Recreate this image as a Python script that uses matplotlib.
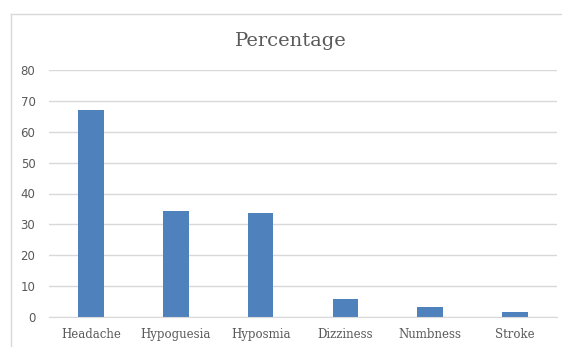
import matplotlib
matplotlib.use("Agg")
import matplotlib.pyplot as plt
from matplotlib.lines import Line2D

categories = ["Headache", "Hypoguesia", "Hyposmia", "Dizziness", "Numbness", "Stroke"]
percentages = [67.2, 34.4, 33.6, 5.6, 3.2, 1.6]
y_ticks = [0, 10, 20, 30, 40, 50, 60, 70, 80]

W, H = 562, 347
fig = plt.figure(figsize=(W / 100, H / 100), dpi=100)
fig.patch.set_facecolor("white")

# chart frame (left and top edges)
fx, fy = 10.5 / W, 1 - 13.5 / H
fig.add_artist(Line2D([fx, fx], [0, fy], transform=fig.transFigure,
                      color="#d9d9d9", linewidth=1.0))
fig.add_artist(Line2D([fx, 1], [fy, fy], transform=fig.transFigure,
                      color="#d9d9d9", linewidth=1.0))

left, right = 48.6 / W, 557.4 / W
bottom, top = 1 - 316.7 / H, 1 - 70.3 / H
ax = fig.add_axes([left, bottom, right - left, top - bottom])

x = range(len(categories))
ax.bar(x, percentages, width=0.30, color="#4f81bd", zorder=3)

ax.set_xlim(-0.5, len(categories) - 0.5)
ax.set_ylim(0, 80)
ax.set_yticks(y_ticks)
ax.set_yticklabels([str(t) for t in y_ticks], fontsize=8.5, color="#595959",
                   family="DejaVu Sans")
ax.set_xticks(list(x))
ax.set_xticklabels(categories, fontsize=8.5, color="#595959", family="DejaVu Serif")
ax.tick_params(axis="y", length=0, pad=9.5)
ax.tick_params(axis="x", length=0, pad=8)

ax.grid(axis="y", color="#d9d9d9", linewidth=1.0, zorder=0)
for s in ["top", "right", "left"]:
    ax.spines[s].set_visible(False)
ax.spines["bottom"].set_color("#d9d9d9")
ax.spines["bottom"].set_zorder(4)

fig.text(291 / W, 1 - 41.5 / H, "Percentage", ha="center", va="center",
         fontsize=14, color="#595959", family="DejaVu Serif")

fig.savefig("out.png", dpi=100)
